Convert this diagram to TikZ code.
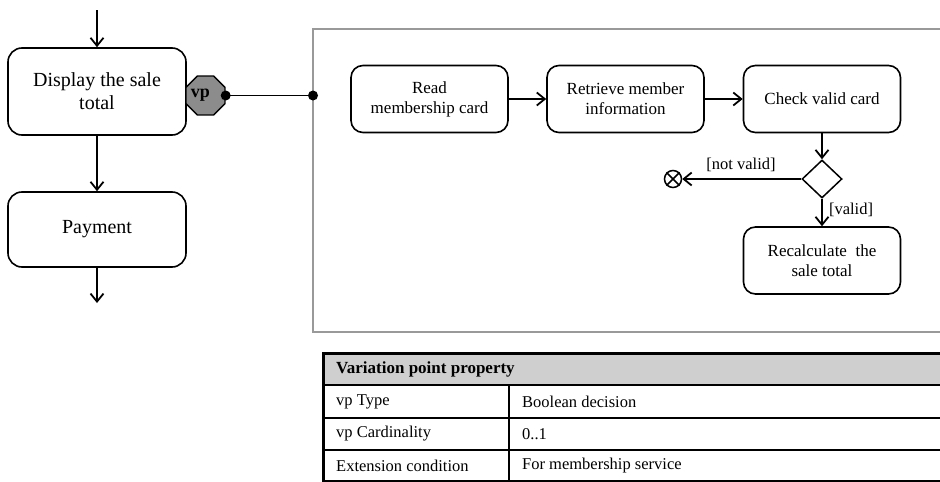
\documentclass[tikz,border=0pt]{standalone}
\usepackage{fontspec}
\setmainfont{Liberation Serif}
\usetikzlibrary{arrows.meta,shapes.geometric}
\begin{document}
\begin{tikzpicture}[x=1pt,y=-1pt,
  act/.style={draw, rounded corners=14pt, line width=1.6pt, align=center, inner sep=0pt},
  bigact/.style={act, minimum width=178pt, font=\fontsize{20}{23}\selectfont},
  smallact/.style={act, rounded corners=12pt, minimum width=157pt, minimum height=67pt, font=\fontsize{17}{20}\selectfont},
  flow/.style={line width=1.8pt, -{Straight Barb[length=8pt,width=13pt,line width=1.8pt]}},
  lbl/.style={font=\fontsize{16.5}{19}\selectfont, inner sep=0pt},
  cell/.style={anchor=west, inner sep=0pt, font=\fontsize{16.5}{19}\selectfont},
  hcell/.style={cell, font=\bfseries\fontsize{17}{19}\selectfont},
  framec/.style={draw=black!40, line width=1.6pt},
]
\useasboundingbox (0,0) rectangle (940,482);
\clip (0,0) rectangle (940,482);

% left column
\node[bigact, minimum height=87pt] (disp) at (97,91.5) {Display the sale\\total};
\node[bigact, minimum height=75pt] (pay) at (97,229.5) {Payment};
\coordinate (in) at (97,10);
\coordinate (out) at (97,303);
\draw[flow] (in) -- (disp);
\draw[flow] (disp) -- (pay);
\draw[flow] (pay) -- (out);

% variation point
\node[regular polygon, regular polygon sides=8, minimum size=42.2pt, inner sep=0pt,
      draw, line width=1.4pt, fill=black!45] (vp) at (205.5,95.5) {};
\node[font=\bfseries\fontsize{18}{20}\selectfont, inner sep=0pt] (vptext) at (200.5,95) {vp};
\coordinate (fdot) at (313,95.5);
\draw[line width=1.8pt] (vp.east) -- (fdot);
\fill (vp.east) circle (5);

% frame
\draw[framec] (960,29) -- (313,29) -- (313,332) -- (960,332);
\fill (fdot) circle (5);

% inner activity
\node[smallact] (read) at (429.5,99) {Read\\membership card};
\node[smallact] (ret) at (625.5,99) {Retrieve member\\information};
\node[smallact] (check) at (822,99) {Check valid card};
\node[diamond, draw, line width=1.5pt, minimum width=40pt, minimum height=38pt, inner sep=0pt] (dec) at (822,179) {};
\node[circle, draw, line width=1.5pt, minimum size=17pt, inner sep=0pt] (fin) at (673,179) {};
\draw[line width=1.5pt] (fin.45) -- (fin.225) (fin.135) -- (fin.315);
\node[smallact] (recalc) at (822,260.5) {Recalculate~ the\\sale total};

\draw[flow] (read) -- (ret);
\draw[flow] (ret) -- (check);
\draw[flow] (check) -- (dec);
\draw[flow] (dec) -- (fin);
\draw[flow] (dec) -- (recalc);
\node[lbl] (nv) at (741,165) {[not valid]};
\node[lbl] (v) at (851,210) {[valid]};

% table
\fill[black!19] (323,353) rectangle (960,385);
\draw[line width=1.7pt] (323,418) -- (960,418) (323,450) -- (960,450);
\draw[line width=1.7pt] (509,385) -- (509,482);
\draw[line width=3pt] (960,353) -- (323,353) -- (323,490);
\draw[line width=2.5pt] (323,385) -- (960,385);
\draw[line width=2.2pt] (323,481) -- (960,481);
\node[hcell] (th) at (336,369) {Variation point property};
\node[cell] (r1a) at (336,401.5) {vp Type};
\node[cell] (r1b) at (522,401.5) {Boolean decision};
\node[cell] (r2a) at (336,434) {vp Cardinality};
\node[cell] (r2b) at (522,434) {0..1};
\node[cell] (r3a) at (336,465.5) {Extension condition};
\node[cell] (r3b) at (522,465.5) {For membership service};
\end{tikzpicture}
\end{document}
